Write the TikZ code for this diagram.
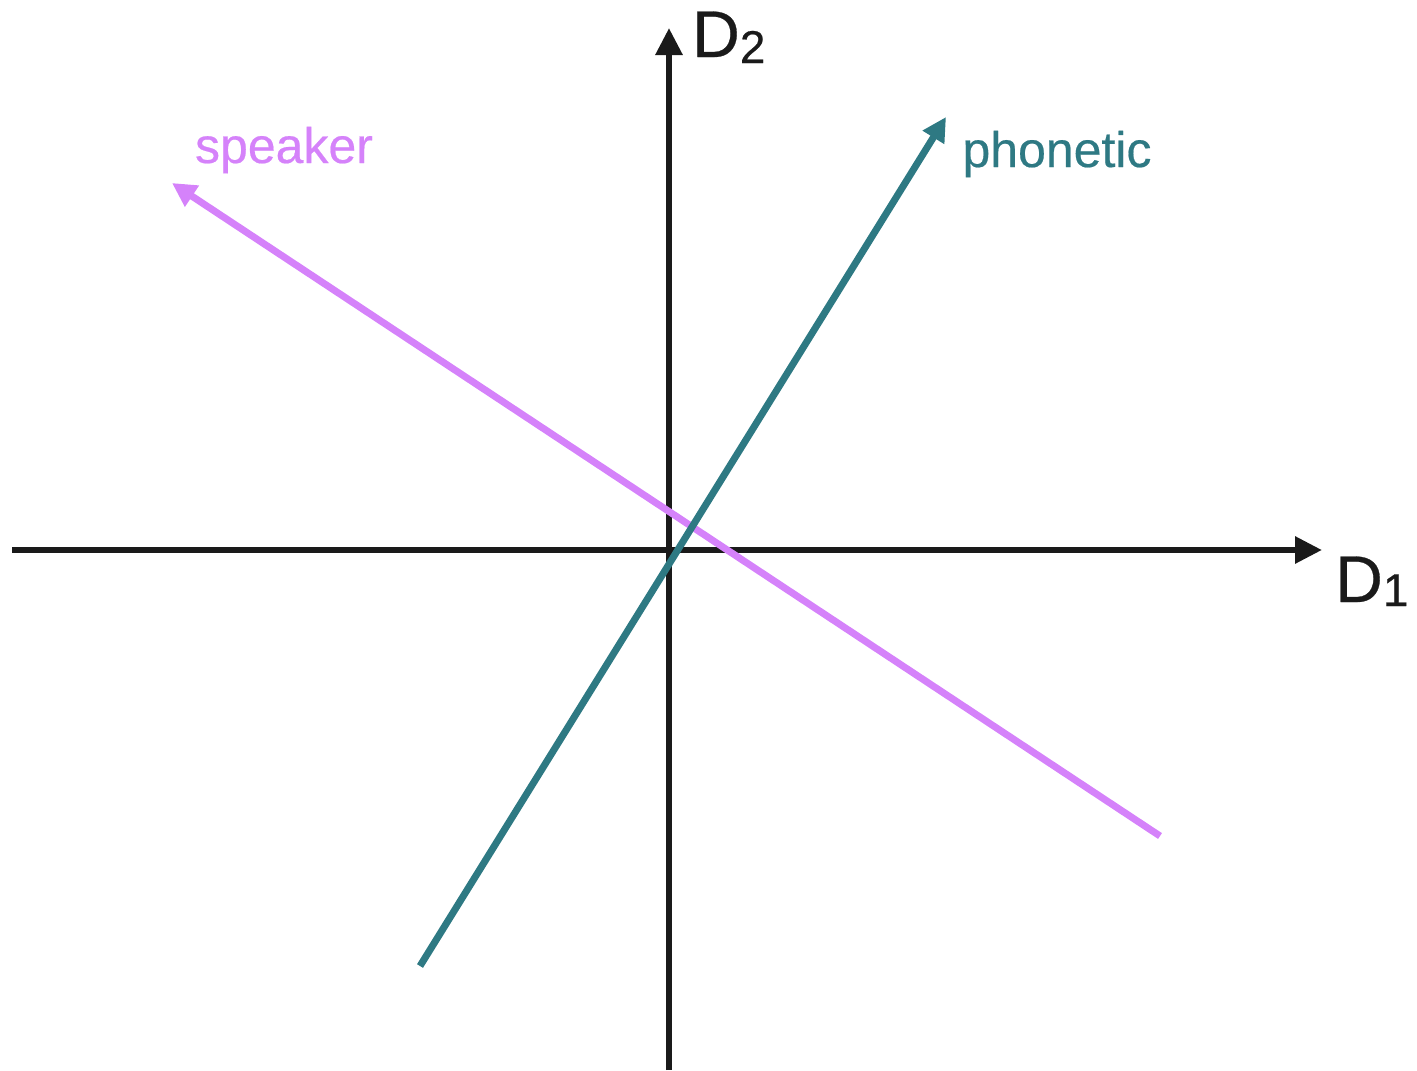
\documentclass[tikz,border=0pt]{standalone}
\usepackage{fontspec}
\setmainfont{Liberation Sans}[FakeBold=0.4]
\usetikzlibrary{arrows.meta}

\definecolor{axisblack}{RGB}{26,26,26}
\definecolor{speakerpink}{RGB}{213,130,250}
\definecolor{phoneteal}{RGB}{46,121,131}

\begin{document}
\begin{tikzpicture}[
  x = 1pt, y = -1pt,
  % ── Axis ────────────────────────────────────────────────
  axis/.style={
    draw       = axisblack,
    line width = 6pt,
    -{Triangle[length=27pt, width=26pt]}
  },
  % ── Direction arrow ─────────────────────────────────────
  dirarr/.style={
    line width = 7pt,
    -{Triangle[length=24pt, width=24pt]}
  },
  % ── Axis label ──────────────────────────────────────────
  axlbl/.style={
    inner sep = 0pt,
    anchor    = base west,
    text      = axisblack,
    font      = \fontsize{66}{66}\selectfont
  },
  % ── Direction label ─────────────────────────────────────
  dirlbl/.style={
    inner sep = 0pt,
    anchor    = base,
    font      = \fontsize{50}{50}\selectfont
  }
]
\useasboundingbox (0,0) rectangle (1417,1071);

% ── End points ─────────────────────────────────────────────
\coordinate (xl)   at (12,550);
\coordinate (xr)   at (1322,550);
\coordinate (yb)   at (669,1070);
\coordinate (yt)   at (669,28);
\coordinate (spk0) at (1160,836);
\coordinate (spk1) at (172,183);
\coordinate (pho0) at (420,966);
\coordinate (pho1) at (946,117);

% ── Axes ───────────────────────────────────────────────────
\draw[axis] (xl) -- (xr);
\draw[axis] (yb) -- (yt);

% ── Directions ─────────────────────────────────────────────
\draw[dirarr, speakerpink] (spk0) -- (spk1);
\draw[dirarr, phoneteal]   (pho0) -- (pho1);

% ── Labels ─────────────────────────────────────────────────
\node[axlbl] (d2) at (692,57)
  {D\raisebox{-6pt}{\fontsize{46}{46}\selectfont 2}};
\node[axlbl] (d1) at (1335,602)
  {D\raisebox{-4pt}{\fontsize{46}{46}\selectfont 1}};
\node[dirlbl, text=speakerpink] (spk) at (284,163) {speaker};
\node[dirlbl, text=phoneteal]   (pho) at (1057,167) {phonetic};

\end{tikzpicture}
\end{document}
